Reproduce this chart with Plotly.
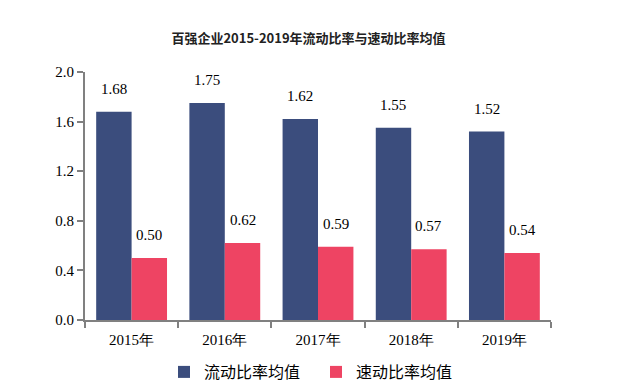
import plotly.graph_objects as go

categories = ["2015年", "2016年", "2017年", "2018年", "2019年"]
current_ratio = [1.68, 1.75, 1.62, 1.55, 1.52]
quick_ratio = [0.50, 0.62, 0.59, 0.57, 0.54]
series_names = ["流动比率均值", "速动比率均值"]
colors = ["#3B4D7D", "#EE4463"]

fig = go.Figure()
for name, vals, c in zip(series_names, [current_ratio, quick_ratio], colors):
    fig.add_trace(go.Bar(x=categories, y=vals, name=name, marker=dict(color=c, line=dict(width=0)),
                         offsetgroup=name))

# value labels above bars
for i, (vals, off) in enumerate([(current_ratio, -0.19), (quick_ratio, 0.19)]):
    for j, v in enumerate(vals):
        fig.add_annotation(x=j + off, y=v, text=f"{v:.2f}", showarrow=False,
                           yanchor="bottom", yshift=13, xref="x", yref="y",
                           font=dict(family="Liberation Serif", size=15, color="#000"))

fig.update_layout(
    width=617, height=390,
    margin=dict(l=85, r=66, t=72, b=70, autoexpand=False),
    paper_bgcolor="white", plot_bgcolor="white",
    title=dict(text="<b>百强企业2015-2019年流动比率与速动比率均值</b>", x=0.5, xanchor="center",
               y=0.9026, yanchor="middle",
               font=dict(family="Noto Sans CJK SC", size=13, color="#222")),
    barmode="group", bargap=0.24, bargroupgap=0,
    showlegend=True,
    legend=dict(orientation="h", xref="container", yref="container",
                x=164 / 617, xanchor="left", y=1 - 372 / 390, yanchor="middle",
                font=dict(family="Noto Sans CJK SC", size=16, color="#000"),
                itemwidth=30, entrywidth=107, traceorder="normal"),
)
fig.update_xaxes(type="category", showline=True, linecolor="#808080", linewidth=2,
                 ticks="outside", tickcolor="#808080", ticklen=6, tickwidth=2,
                 tickson="boundaries", showgrid=False, ticklabelstandoff=5, automargin=False,
                 tickfont=dict(family="Liberation Serif", size=15, color="#000"))
fig.update_yaxes(range=[0, 2.0], dtick=0.4, tickformat=".1f", showline=True, linecolor="#808080",
                 linewidth=2, ticks="outside", tickcolor="#808080", ticklen=6, tickwidth=2,
                 showgrid=False, zeroline=False, automargin=False,
                 tickfont=dict(family="Liberation Serif", size=15, color="#000"))

fig.write_html("out.html", config={"displayModeBar": False},
               post_script="document.body.style.margin='0';")
